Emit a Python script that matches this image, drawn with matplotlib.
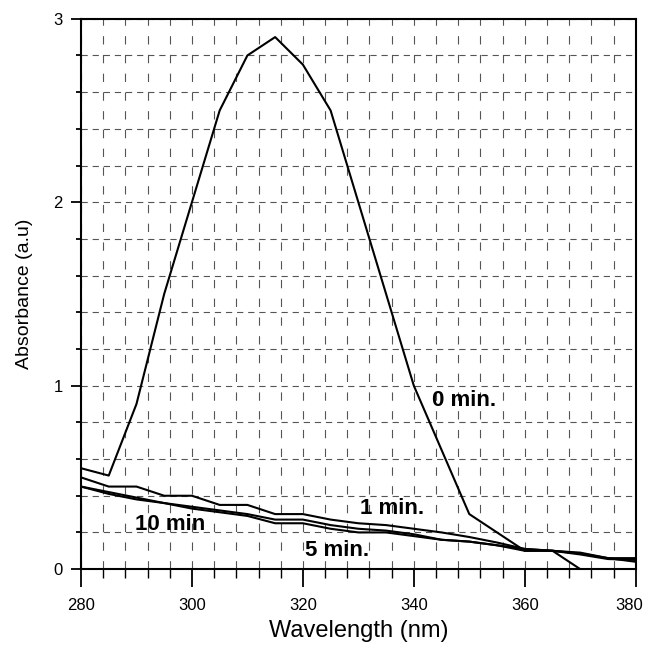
import matplotlib
matplotlib.use("Agg")
import matplotlib.pyplot as plt
import matplotlib.transforms as mtransforms
from matplotlib.ticker import MultipleLocator

plt.rcParams['font.family'] = ['Liberation Sans', 'DejaVu Sans']
plt.rcParams['lines.scale_dashes'] = False

wavelength = [280, 285, 290, 295, 300, 305, 310, 315, 320, 325, 330,
              335, 340, 345, 350, 355, 360, 365, 370, 375, 380]

abs_0min = [0.55, 0.51, 0.90, 1.50, 2.00, 2.50, 2.80, 2.90, 2.75, 2.50, 2.00,
            1.50, 1.00, 0.65, 0.30, 0.20, 0.10, 0.10, 0.00]
abs_1min = [0.50, 0.45, 0.45, 0.40, 0.40, 0.35, 0.35, 0.30, 0.30, 0.27, 0.25,
            0.24, 0.22, 0.20, 0.175, 0.145, 0.11, 0.10, 0.08, 0.055, 0.05]
abs_5min = [0.45, 0.41, 0.38, 0.36, 0.33, 0.31, 0.29, 0.25, 0.25, 0.22, 0.20,
            0.20, 0.18, 0.16, 0.15, 0.13, 0.10, 0.10, 0.09, 0.06, 0.04]
abs_10min = [0.45, 0.42, 0.39, 0.36, 0.34, 0.32, 0.30, 0.27, 0.27, 0.24, 0.22,
             0.21, 0.19, 0.16, 0.15, 0.13, 0.11, 0.10, 0.085, 0.06, 0.06]

labels = ["0 min.", "1 min.", "5 min.", "10 min"]
label_pos = [(343.2, 0.917), (330.3, 0.332), (320.4, 0.10), (289.7, 0.241)]

fig = plt.figure(figsize=(6.48, 6.46), dpi=100)
ax = fig.add_axes([0.125, 0.119, 0.856, 0.852])

ax.plot(wavelength[:len(abs_0min)], abs_0min, color='black', lw=1.5)
ax.plot(wavelength, abs_1min, color='black', lw=1.5)
ax.plot(wavelength, abs_5min, color='black', lw=1.5)
ax.plot(wavelength, abs_10min, color='black', lw=1.5)

for t, (x, y) in zip(labels, label_pos):
    ax.text(x, y, t, fontsize=16, fontweight='bold', ha='left', va='center')

ax.set_xlim(280, 380)
ax.set_ylim(0, 3)
ax.xaxis.set_major_locator(MultipleLocator(20))
ax.xaxis.set_minor_locator(MultipleLocator(4))
ax.yaxis.set_major_locator(MultipleLocator(1))
ax.yaxis.set_minor_locator(MultipleLocator(0.2))

ax.xaxis.grid(True, which='both', color='#555555', lw=0.8, linestyle=(0, (6, 7.5)))
ax.yaxis.grid(True, which='both', color='#555555', lw=0.8, linestyle=(0, (4.5, 3.5)))
ax.set_axisbelow(True)

ax.tick_params(axis='x', which='major', direction='out', length=13, width=1.3, labelsize=12, pad=8)
ax.tick_params(axis='x', which='minor', direction='out', length=6.5, width=1.0)
ax.tick_params(axis='y', which='major', direction='out', length=7.5, width=1.3, labelsize=12, pad=5.5)
ax.tick_params(axis='y', which='minor', direction='out', length=3.5, width=1.3)

for s in ax.spines.values():
    s.set_linewidth(1.5)

ax.set_xlabel("Wavelength (nm)", fontsize=17, labelpad=5)
ax.set_ylabel("Absorbance (a.u)", fontsize=14, labelpad=15)

# keep the rightmost tick label inside the canvas
fig.canvas.draw()
offset = mtransforms.ScaledTranslation(-5 / 72, 0, fig.dpi_scale_trans)
for tk in ax.xaxis.get_major_ticks():
    if abs(tk.get_loc() - 380) < 1e-6:
        tk.label1.set_transform(tk.label1.get_transform() + offset)

fig.savefig("out.png", dpi=100)
